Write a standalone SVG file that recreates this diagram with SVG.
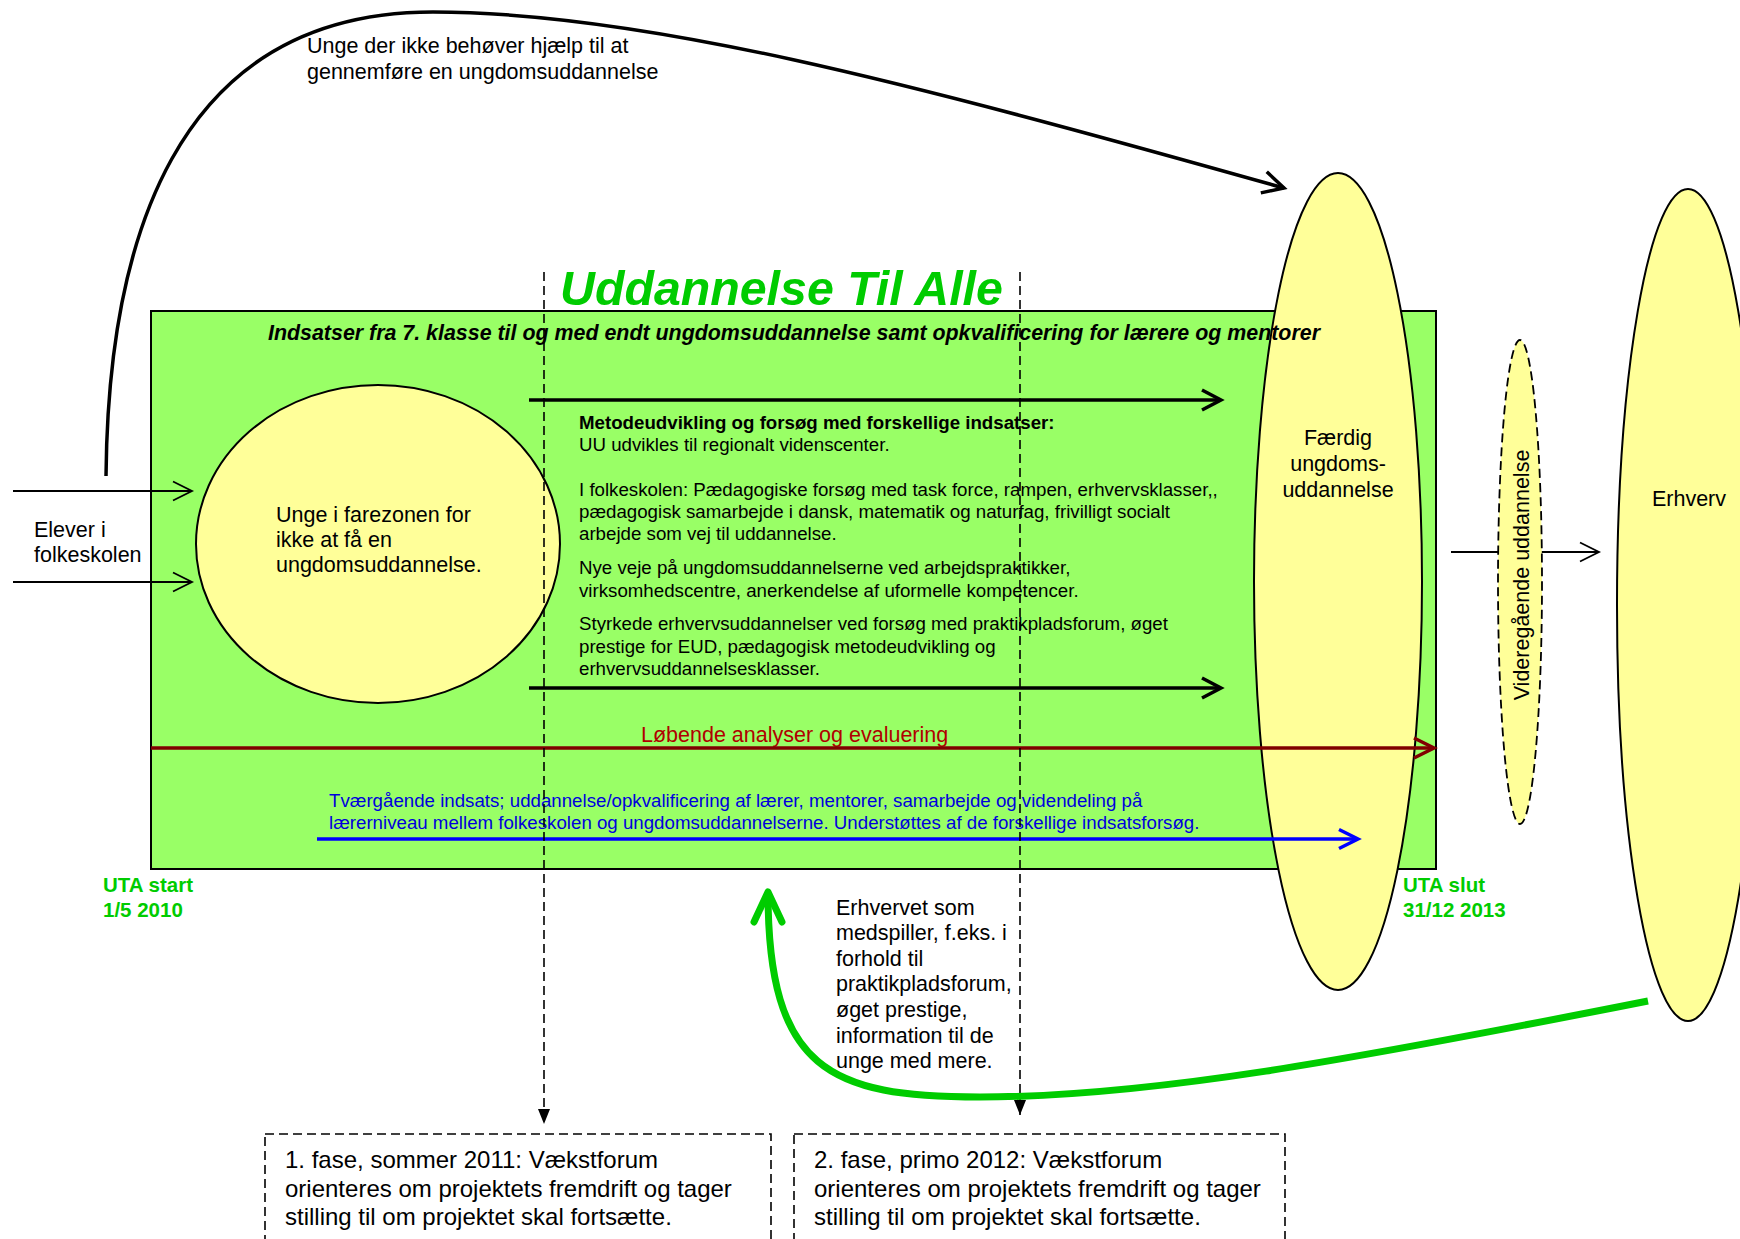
<svg xmlns="http://www.w3.org/2000/svg" width="1740" height="1239" viewBox="0 0 1740 1239">
<style>
  text { font-family: "Liberation Sans", Arial, sans-serif; fill: #000; }
  .t { font-size: 21.5px; }
  .s { font-size: 18.7px; }
  .bx { font-size: 24px; }
  .green { fill: #00cc00; font-weight: bold; }
  .yel { fill: #ffff99; stroke: #000; stroke-width: 2; }
  .dash { fill: none; stroke: #000; stroke-width: 1.6; stroke-dasharray: 9 5; }
</style>
<defs>
  <marker id="aThin" markerUnits="userSpaceOnUse" orient="auto" overflow="visible" refX="0" refY="0" markerWidth="30" markerHeight="30">
    <path d="M-19,-9.5 L0,0 L-19,9.5" fill="none" stroke="#000" stroke-width="1.8"/>
  </marker>
  <marker id="aThick" markerUnits="userSpaceOnUse" orient="auto" overflow="visible" refX="0" refY="0" markerWidth="30" markerHeight="30">
    <path d="M-19,-10 L0,0 L-19,10" fill="none" stroke="#000" stroke-width="3.5"/>
  </marker>
  <marker id="aTop" markerUnits="userSpaceOnUse" orient="auto" overflow="visible" refX="0" refY="0" markerWidth="30" markerHeight="30">
    <path d="M-21,-11 L0,0 L-21,11" fill="none" stroke="#000" stroke-width="3.5"/>
  </marker>
  <marker id="aRed" markerUnits="userSpaceOnUse" orient="auto" overflow="visible" refX="0" refY="0" markerWidth="30" markerHeight="30">
    <path d="M-20,-10 L0,0 L-20,10" fill="none" stroke="#800000" stroke-width="3.5"/>
  </marker>
  <marker id="aBlue" markerUnits="userSpaceOnUse" orient="auto" overflow="visible" refX="0" refY="0" markerWidth="30" markerHeight="30">
    <path d="M-19,-9.5 L0,0 L-19,9.5" fill="none" stroke="#0000ff" stroke-width="3.5"/>
  </marker>
  <marker id="aGreen" markerUnits="userSpaceOnUse" orient="auto" overflow="visible" refX="0" refY="0" markerWidth="40" markerHeight="40">
    <path d="M-30,-14 L0,0 L-30,14" fill="none" stroke="#00cc00" stroke-width="7" stroke-linecap="round" stroke-linejoin="round"/>
  </marker>
  <marker id="aDash" markerUnits="userSpaceOnUse" orient="auto" overflow="visible" refX="0" refY="0" markerWidth="20" markerHeight="20">
    <path d="M-15,-6 L0,0 L-15,6 Z" fill="#000"/>
  </marker>
</defs>

<g id="main-box">
  <rect x="151" y="311" width="1285" height="558" fill="#99ff66" stroke="#000" stroke-width="2"/>
</g>

<g id="title">
  <text x="560" y="305" font-size="48.3" font-weight="bold" font-style="italic" style="fill:#00cc00">Uddannelse Til Alle</text>
</g>

<g id="faerdig">
  <ellipse class="yel" cx="1338" cy="581.5" rx="84" ry="408.5"/>
  <text class="t" x="1338" y="445" text-anchor="middle">Færdig</text>
  <text class="t" x="1338" y="471" text-anchor="middle">ungdoms-</text>
  <text class="t" x="1338" y="497" text-anchor="middle">uddannelse</text>
</g>

<g id="subtitle">
  <text x="268" y="340" font-size="21.4" font-weight="bold" font-style="italic">Indsatser fra 7. klasse til og med endt ungdomsuddannelse samt opkvalificering for lærere og mentorer</text>
</g>

<g id="farezone">
  <ellipse class="yel" cx="378" cy="544" rx="182" ry="159"/>
  <text class="t" x="276" y="522">Unge i farezonen for</text>
  <text class="t" x="276" y="547">ikke at få en</text>
  <text class="t" x="276" y="572">ungdomsuddannelse.</text>
</g>

<g id="elever">
  <text class="t" x="34" y="537">Elever i</text>
  <text class="t" x="34" y="562">folkeskolen</text>
</g>

<g id="indsatser">
  <text class="s" x="579" y="429" font-weight="bold">Metodeudvikling og forsøg med forskellige indsatser:</text>
  <text class="s" x="579" y="451">UU udvikles til regionalt videnscenter.</text>
  <text class="s" x="579" y="496">I folkeskolen: Pædagogiske forsøg med task force, rampen, erhvervsklasser,,</text>
  <text class="s" x="579" y="518">pædagogisk samarbejde i dansk, matematik og naturfag, frivilligt socialt</text>
  <text class="s" x="579" y="540">arbejde som vej til uddannelse.</text>
  <text class="s" x="579" y="574">Nye veje på ungdomsuddannelserne ved arbejdspraktikker,</text>
  <text class="s" x="579" y="597">virksomhedscentre, anerkendelse af uformelle kompetencer.</text>
  <text class="s" x="579" y="630">Styrkede erhvervsuddannelser ved forsøg med praktikpladsforum, øget</text>
  <text class="s" x="579" y="653">prestige for EUD, pædagogisk metodeudvikling og</text>
  <text class="s" x="579" y="675">erhvervsuddannelsesklasser.</text>
</g>

<g id="analyse-label">
  <text class="t" x="641" y="742" style="fill:#b00000">Løbende analyser og evaluering</text>
</g>

<g id="tvaer-label">
  <text class="s" x="329" y="807" style="fill:#0000dd">Tværgående indsats; uddannelse/opkvalificering af lærer, mentorer, samarbejde og videndeling på</text>
  <text class="s" x="329" y="829" style="fill:#0000dd">lærerniveau mellem folkeskolen og ungdomsuddannelserne. Understøttes af de forskellige indsatsforsøg.</text>
</g>

<g id="uta-labels">
  <text class="green" x="103" y="892" font-size="20.5">UTA start</text>
  <text class="green" x="103" y="917" font-size="20.5">1/5 2010</text>
  <text class="green" x="1403" y="892" font-size="20.5">UTA slut</text>
  <text class="green" x="1403" y="917" font-size="20.5">31/12 2013</text>
</g>

<g id="erhvervet-label">
  <text class="t" x="836" y="915">Erhvervet som</text>
  <text class="t" x="836" y="940">medspiller, f.eks. i</text>
  <text class="t" x="836" y="966">forhold til</text>
  <text class="t" x="836" y="991">praktikpladsforum,</text>
  <text class="t" x="836" y="1017">øget prestige,</text>
  <text class="t" x="836" y="1043">information til de</text>
  <text class="t" x="836" y="1068">unge med mere.</text>
</g>

<g id="top-label">
  <text class="t" x="307" y="53">Unge der ikke behøver hjælp til at</text>
  <text class="t" x="307" y="79">gennemføre en ungdomsuddannelse</text>
</g>

<g id="connectors">
  <line x1="13" y1="491" x2="192" y2="491" stroke="#000" stroke-width="1.8" marker-end="url(#aThin)"/>
  <line x1="13" y1="582" x2="192" y2="582" stroke="#000" stroke-width="1.8" marker-end="url(#aThin)"/>
  <line x1="529" y1="400" x2="1221" y2="400" stroke="#000" stroke-width="3.5" marker-end="url(#aThick)"/>
  <line x1="529" y1="688" x2="1221" y2="688" stroke="#000" stroke-width="3.5" marker-end="url(#aThick)"/>
  <line x1="151" y1="748" x2="1434" y2="748" stroke="#800000" stroke-width="3.5" marker-end="url(#aRed)"/>
  <line x1="317" y1="839" x2="1358" y2="839" stroke="#0000ff" stroke-width="3.5" marker-end="url(#aBlue)"/>
  <line x1="1451" y1="552" x2="1599" y2="552" stroke="#000" stroke-width="1.8" marker-end="url(#aThin)"/>
  <path d="M106,476 C108,250 170,12 433,12 C640,12 900,80 1284,188" fill="none" stroke="#000" stroke-width="3.5" marker-end="url(#aTop)"/>
  <line class="dash" x1="544" y1="272" x2="544" y2="1124" marker-end="url(#aDash)"/>
  <line class="dash" x1="1020" y1="272" x2="1020" y2="1115" marker-end="url(#aDash)"/>
  <path d="M1648,1001 C1350,1060 1150,1097 980,1097 C830,1097 768,1070 768,892" fill="none" stroke="#00cc00" stroke-width="7" marker-end="url(#aGreen)"/>
</g>

<g id="videregaaende">
  <ellipse cx="1520" cy="582" rx="22" ry="242" fill="#ffff99" stroke="#000" stroke-width="1.8" stroke-dasharray="9 5"/>
  <text class="t" transform="translate(1529,575) rotate(-90)" text-anchor="middle">Videregående uddannelse</text>
</g>

<g id="erhverv">
  <ellipse class="yel" cx="1688" cy="605" rx="71" ry="416"/>
  <text class="t" x="1689" y="506" text-anchor="middle">Erhverv</text>
</g>

<g id="fase1">
  <rect class="dash" x="265" y="1134" width="506" height="130"/>
  <text class="bx" x="285" y="1168">1. fase, sommer 2011: Vækstforum</text>
  <text class="bx" x="285" y="1197">orienteres om projektets fremdrift og tager</text>
  <text class="bx" x="285" y="1225">stilling til om projektet skal fortsætte.</text>
</g>

<g id="fase2">
  <rect class="dash" x="794" y="1134" width="491" height="130"/>
  <text class="bx" x="814" y="1168">2. fase, primo 2012: Vækstforum</text>
  <text class="bx" x="814" y="1197">orienteres om projektets fremdrift og tager</text>
  <text class="bx" x="814" y="1225">stilling til om projektet skal fortsætte.</text>
</g>
</svg>
